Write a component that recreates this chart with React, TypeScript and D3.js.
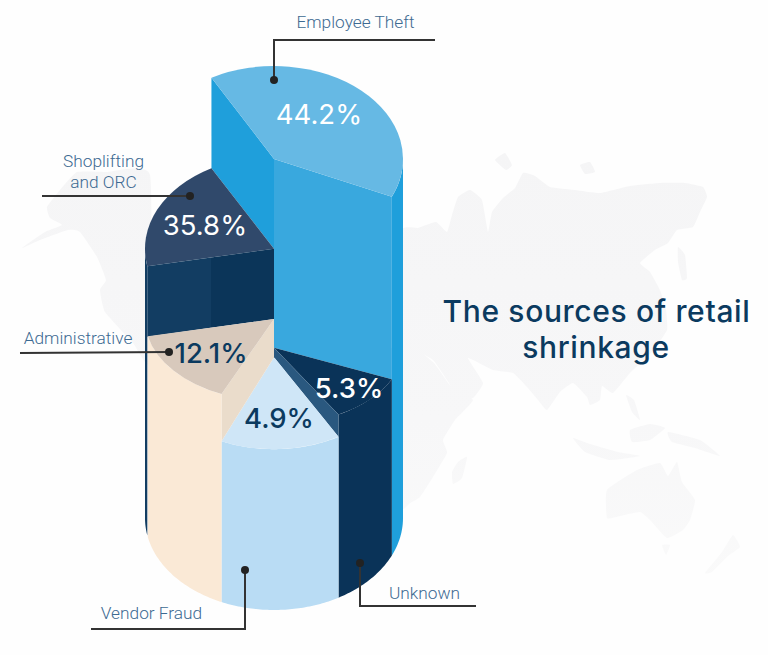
import React from "react";
import * as d3 from "d3";

// Values and drawn geometry. The wedges are not to scale in the source.
const categories = ["Employee Theft", "Shoplifting and ORC", "Administrative", "Vendor Fraud", "Unknown"];
const shares = [44.2, 35.8, 12.1, 4.9, 5.3];
const wedgeStart = [-119, 169, 114, 60, 24]; // degrees, clockwise from 3 o'clock on screen
const wedgeEnd = [24, 241, 168, 114, 60];
const columnHeight = [100, 75, 55.4, 44.8, 47.4]; // % of full cylinder height

const CX = 274;
const RX = 129;
const RY = [93, 92, 82, 92, 77];
const BASE_RY = 92;

const heightY = d3.scaleLinear().domain([0, 100]).range([518, 159]);
const rad = d3.scaleLinear().domain([0, 180]).range([0, Math.PI]);
const shareText = d3.format(".1f");

const COLORS = {
  blueTop: "#66b9e4",
  blueWall: "#39a8de",
  blueSide: "#1f9fdb",
  navyTop: "#30496b",
  navyWallA: "#123d62",
  navyWallB: "#0b3559",
  unknown: "#0a3358",
  unknownEdge: "#2a587f",
  paleTop: "#cfe6f7",
  paleWall: "#b9dcf4",
  sandTop: "#d8c9bc",
  sandInner: "#eadccb",
  sandWall: "#fae9d6",
  label: "#3d6a92",
  leader: "#333333",
  ink: "#0b3a5f",
};

// backdrop world map, rough outline only
const MAP_SHAPES: [number, number][][] = [
  [[47,207],[60,190],[77,172],[107,172],[150,175],[150,362],[133,343],[105,312],[100,290],[106,280],[97,257],[80,232],[68,230],[40,240],[22,248],[45,232],[62,225],[50,218]],
  [[400,232],[418,228],[436,222],[447,232],[452,215],[458,197],[470,190],[482,200],[488,232],[492,212],[503,198],[515,188],[523,173],[535,176],[550,187],[575,190],[600,193],[630,186],[660,183],[685,183],[703,187],[707,197],[700,212],[693,227],[677,230],[668,243],[655,250],[640,263],[650,272],[660,290],[666,310],[667,330],[652,352],[630,373],[613,393],[602,386],[600,400],[590,405],[587,397],[573,383],[560,392],[547,410],[538,400],[527,387],[513,373],[493,370],[468,358],[483,383],[473,398],[460,400],[447,380],[433,360],[415,350],[400,343]],
  [[400,343],[433,362],[450,385],[473,400],[455,420],[443,440],[447,453],[433,477],[420,497],[410,503],[400,505]],
  [[467,457],[462,478],[453,484],[452,472],[458,462]],
  [[607,490],[637,470],[660,463],[668,476],[677,462],[682,482],[695,500],[690,520],[683,530],[667,538],[650,520],[640,512],[620,516],[607,518]],
  [[662,545],[670,545],[666,555]],
  [[733,535],[740,547],[728,556],[712,572],[705,573],[722,552]],
  [[678,247],[685,255],[687,278],[682,280],[678,262]],
  [[573,438],[590,444],[618,452],[640,456],[610,460],[585,452]],
  [[630,430],[650,424],[665,428],[650,440],[632,442]],
  [[668,432],[700,440],[720,456],[695,448],[672,442]],
  [[626,395],[634,400],[640,420],[632,412]],
  [[495,160],[505,153],[512,165],[506,170]],
  [[580,165],[590,162],[595,172],[585,174]],
];

const callouts = [
  { cat: 0, dot: [274, 80], path: [[274, 80], [274, 40], [435, 40]] },
  { cat: 1, dot: [190, 196], path: [[190, 196], [42, 196]] },
  { cat: 2, dot: [169, 352], path: [[169, 352], [20, 353]] },
  { cat: 3, dot: [245, 570], path: [[245, 570], [245, 629], [91, 629]] },
  { cat: 4, dot: [360, 563], path: [[360, 563], [360, 606], [476, 606]] },
];

const poly = d3.line().curve(d3.curveLinear);
const mapOutline = d3.line().curve(d3.curveCardinalClosed.tension(0.6));
const rimX = (deg: number) => CX + RX * Math.cos(rad(deg));

// point on the rim of the ellipse whose centre sits at column height h
function rim(deg: number, h: number, ry: number): [number, number] {
  return [rimX(deg), heightY(h) + ry * Math.sin(rad(deg))];
}
const apex = (h: number): [number, number] => [CX, heightY(h)];

function closed(points: [number, number][]) {
  return poly(points) + "Z";
}

// outer curved wall between two angles, from a top rim down to the base rim
function outerWall(from: number, to: number, h: number, ry: number, bottomH = 0, bottomRy = BASE_RY) {
  const angles = d3.range(from, to + 0.01, 1);
  return d3
    .area<number>()
    .x((t) => rimX(t))
    .y0((t) => heightY(h) + ry * Math.sin(rad(t)))
    .y1((t) => heightY(bottomH) + bottomRy * Math.sin(rad(t)))(angles) as string;
}

function TopFace({ i, fill }: { i: number; fill: string }) {
  const d = d3.arc()({
    innerRadius: 0,
    outerRadius: RX,
    startAngle: rad(wedgeStart[i] + 90),
    endAngle: rad(wedgeEnd[i] + 90),
  }) as string;
  return (
    <path
      d={d}
      fill={fill}
      transform={`translate(${CX},${heightY(columnHeight[i])}) scale(1,${RY[i] / RX})`}
    />
  );
}

function Cylinder() {
  const [blue, navy, sand, pale, unk] = columnHeight;
  const navyFrontL = rim(wedgeStart[1], navy, RY[1]);
  const navyFrontR = apex(navy);
  const navyLowL = rim(wedgeStart[1], sand, RY[2] + 10);
  const navyLowR = apex(sand);
  const splitT = (211 - navyFrontL[0]) / (navyFrontR[0] - navyFrontL[0]);
  const navyMidTop = d3.interpolateArray(navyFrontL, navyFrontR)(splitT) as [number, number];
  const navyMidLow = d3.interpolateArray(navyLowL, navyLowR)(splitT) as [number, number];

  return (
    <g>
      {/* back to front */}
      <path d={outerWall(wedgeStart[1], 180, navy, RY[1])} fill={COLORS.navyWallA} />
      <path
        d={closed([apex(blue), rim(wedgeStart[0], blue, RY[0]), rim(wedgeStart[0], navy, RY[1]), apex(navy)])}
        fill={COLORS.blueSide}
      />
      <TopFace i={1} fill={COLORS.navyTop} />
      <path d={closed([navyFrontL, navyMidTop, navyMidLow, navyLowL])} fill={COLORS.navyWallA} />
      <path d={closed([navyMidTop, navyFrontR, navyLowR, navyMidLow])} fill={COLORS.navyWallB} />

      <path d={outerWall(0, wedgeEnd[0], blue, RY[0])} fill={COLORS.blueSide} />
      <path
        d={closed([apex(blue), rim(wedgeEnd[0], blue, RY[0]), rim(wedgeEnd[0], unk, RY[4]), apex(unk)])}
        fill={COLORS.blueWall}
      />
      <TopFace i={0} fill={COLORS.blueTop} />

      <path d={outerWall(wedgeStart[4], wedgeEnd[4], unk, RY[4])} fill={COLORS.unknown} />
      <TopFace i={4} fill={COLORS.unknown} />
      <path
        d={closed([apex(unk), rim(wedgeEnd[4], unk, RY[4]), rim(wedgeEnd[4], pale, RY[3]), apex(pale)])}
        fill={COLORS.unknownEdge}
      />

      <path d={outerWall(wedgeStart[3], wedgeEnd[3], pale, RY[3])} fill={COLORS.paleWall} />
      <TopFace i={3} fill={COLORS.paleTop} />

      <path
        d={closed([apex(sand), rim(wedgeStart[2], sand, RY[2]), rim(wedgeStart[2], pale, RY[3]), apex(pale)])}
        fill={COLORS.sandInner}
      />
      <path d={outerWall(wedgeStart[2], wedgeEnd[2], sand, RY[2])} fill={COLORS.sandWall} />
      <TopFace i={2} fill={COLORS.sandTop} />
    </g>
  );
}

const shareLabels = [
  { x: 319, y: 124, fill: "#ffffff", weight: 400 },
  { x: 205, y: 235, fill: "#ffffff", weight: 400 },
  { x: 211, y: 363, fill: COLORS.ink, weight: 500 },
  { x: 279, y: 428, fill: COLORS.ink, weight: 500 },
  { x: 349, y: 398, fill: "#ffffff", weight: 500 },
];

const labelLines = [
  { lines: [{ t: "Employee Theft", x: 355.5, y: 28 }] },
  { lines: [{ t: "Shoplifting", x: 103.5, y: 167 }, { t: "and ORC", x: 103.5, y: 188 }] },
  { lines: [{ t: "Administrative", x: 78, y: 344 }] },
  { lines: [{ t: "Vendor Fraud", x: 151.5, y: 619 }] },
  { lines: [{ t: "Unknown", x: 424.5, y: 599 }] },
];

export default function App() {
  return (
    <div style={{ position: "absolute", left: 0, top: 0, width: 768, height: 655 }}>
      <svg width={768} height={655} viewBox="0 0 768 655" style={{ display: "block", background: "#fefefe" }}>
        <defs>
          <linearGradient id="mapFade" gradientUnits="userSpaceOnUse" x1={0} y1={150} x2={0} y2={600}>
            <stop offset="0" stopColor="#f5f5f6" />
            <stop offset="0.6" stopColor="#f7f7f8" />
            <stop offset="1" stopColor="#fafafa" />
          </linearGradient>
        </defs>
        <g fill="url(#mapFade)">
          {MAP_SHAPES.map((s, i) => (
            <path key={i} d={mapOutline(s) as string} />
          ))}
        </g>

        <Cylinder />

        {categories.map((c, i) => (
          <text
            key={c}
            x={shareLabels[i].x}
            y={shareLabels[i].y}
            textAnchor="middle"
            fontFamily="Inter, sans-serif"
            fontSize={27.5}
            fontWeight={shareLabels[i].weight}
            fill={shareLabels[i].fill}
          >
            {shareText(shares[i])}%
          </text>
        ))}

        {callouts.map((c) => (
          <g key={c.cat}>
            <path d={poly(c.path as [number, number][]) as string} fill="none" stroke={COLORS.leader} strokeWidth={2} />
            <circle cx={c.dot[0]} cy={c.dot[1]} r={4} fill="#222222" />
          </g>
        ))}

        {labelLines.map((l, i) =>
          l.lines.map((ln) => (
            <text
              key={`${i}-${ln.t}`}
              x={ln.x}
              y={ln.y}
              textAnchor="middle"
              fontFamily="Roboto, sans-serif"
              fontWeight={300}
              fontSize={17.3}
              fill={COLORS.label}
            >
              {ln.t}
            </text>
          ))
        )}

        <g fontFamily="Inter, sans-serif" fontWeight={500} fontSize={30} letterSpacing={0.65} fill={COLORS.ink} textAnchor="middle">
          <text x={596.5} y={322}>The sources of retail</text>
          <text x={596} y={358}>shrinkage</text>
        </g>
      </svg>
    </div>
  );
}
